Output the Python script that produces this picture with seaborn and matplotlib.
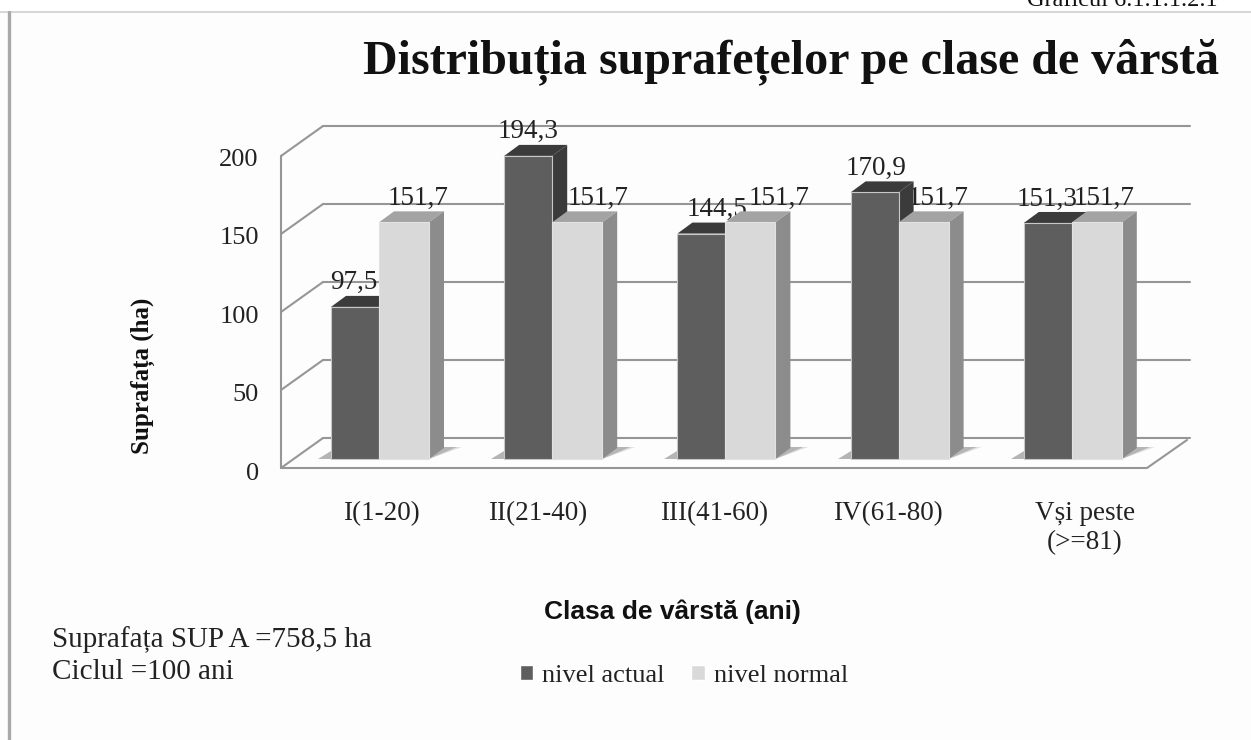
import matplotlib
matplotlib.use("Agg")
import matplotlib.pyplot as plt
from matplotlib.lines import Line2D
from matplotlib.patches import Polygon
import pandas as pd
import seaborn as sns

# Chart values
classes = ["I(1-20)", "II(21-40)", "III(41-60)", "IV(61-80)", "Vși peste\n(>=81)"]
nivel_actual = [97.5, 194.3, 144.5, 170.9, 151.3]
nivel_normal = [151.7, 151.7, 151.7, 151.7, 151.7]
yticks = [0, 50, 100, 150, 200]

W, H = 1251, 740
X0, DX = 379.0, 173.2    # pixel of first group centre, pixels per category
Y0, DY = 459.0, 1.56     # pixel of value 0 at the bars, pixels per unit
AX_L, AX_R, AX_T, AX_B = 281, 1190, 100, 480

DARK, DARK_TOP, LIGHT, LIGHT_TOP, LIGHT_SIDE = "#5e5e5e", "#3b3b3b", "#d9d9d9", "#a3a3a3", "#8c8c8c"
WALL = "#969696"
TEXT = "#222222"

sns.set_theme(style="white")
plt.rcParams["font.family"] = ["Liberation Serif", "DejaVu Serif"]

df = pd.DataFrame({
    "clasa": classes * 2,
    "suprafata": nivel_actual + nivel_normal,
    "nivel": ["nivel actual"] * 5 + ["nivel normal"] * 5,
})

fig = plt.figure(figsize=(W / 100, H / 100), dpi=100, facecolor="#fdfdfd")
ax = fig.add_axes([AX_L / W, 1 - AX_B / H, (AX_R - AX_L) / W, (AX_B - AX_T) / H])
ax.patch.set_alpha(0)

sns.barplot(data=df, x="clasa", y="suprafata", hue="nivel", palette=[DARK, LIGHT],
            width=50 * 2 / DX, gap=0, saturation=1, ax=ax, legend=True)

ax.set_xlim((AX_L - X0) / DX, (AX_R - X0) / DX)
ax.set_ylim((Y0 - AX_B) / DY, (Y0 - AX_T) / DY)
sns.despine(ax=ax, left=True, bottom=True)


def pdx(p):
    return p / DX


def pdy(p):
    return p / DY


# 3D box: walls, floor and gridlines, offsets from the bars plane in pixels
front_x, back_x = ax.get_xlim()[0], pdx(42) + ax.get_xlim()[0]
right_x = ax.get_xlim()[1] - pdx(43)
front_y, back_y = -pdy(9), pdy(21)
for v in yticks:
    ax.plot([front_x, back_x], [v + front_y, v + back_y], color=WALL, lw=1.5, zorder=1, clip_on=False)
    ax.plot([back_x, ax.get_xlim()[1]], [v + back_y, v + back_y], color=WALL, lw=1.5, zorder=1, clip_on=False)
ax.plot([front_x, front_x], [front_y, 200 + front_y], color=WALL, lw=1.5, zorder=1, clip_on=False)
ax.plot([front_x, right_x, right_x + pdx(40)], [front_y, front_y, back_y - pdy(2)], color=WALL, lw=1.5, zorder=1, clip_on=False)

# depth faces and shadow worked out from the bars seaborn drew
bars = [p for p in ax.patches if p.get_height() > 0]
n = len(classes)
dep_x, dep_y = pdx(15), pdy(11)
for i, p in enumerate(bars):
    x, w, h = p.get_x(), p.get_width(), p.get_height()
    dark = i < n
    if dark:
        p.set_x(x + pdx(2))
        p.set_width(w - pdx(2))
        x, w = p.get_x(), p.get_width()
    p.set_edgecolor("#c8c8c8" if dark else "#e2e2e2")
    p.set_linewidth(0.8)
    p.set_zorder(4 if dark else 6)
    ax.add_patch(Polygon([(x, h), (x + w, h), (x + w + dep_x, h + dep_y), (x + dep_x, h + dep_y)],
                         fc=DARK_TOP if dark else LIGHT_TOP, ec="none", zorder=3 if dark else 5))
    ax.add_patch(Polygon([(x + w, 0), (x + w + dep_x, dep_y), (x + w + dep_x, h + dep_y), (x + w, h)],
                         fc=DARK_TOP if dark else LIGHT_SIDE, ec="none", zorder=3 if dark else 5))
    if not dark:
        for grow, alpha in [(33, 0.3), (28, 0.6)]:
            ax.add_patch(Polygon([(x + w, 0), (x + w + pdx(grow), pdy(12)), (x + w, pdy(12))],
                                 fc="#9a9a9a", alpha=alpha, ec="none", zorder=1.5))
    else:
        ax.add_patch(Polygon([(x - pdx(13), 0), (x, 0), (x, pdy(8))], fc="#b5b5b5", ec="none", zorder=1.5))

# value labels, they sit behind the bars like in the original
label_shift = [-1, 0, 16, 1, -1, 14, 21, 29, 14, 7]
for i, p in enumerate(bars):
    cx = p.get_x() + p.get_width() / 2 + pdx(label_shift[i])
    ax.text(cx, p.get_height() + pdy(24), f"{p.get_height():.1f}".replace(".", ","),
            ha="center", va="center", fontsize=19.5, color=TEXT, zorder=2)

# tick labels
label_px = [381, 538, 714, 888, 1085]
ax.set_xticks([(px - X0) / DX for px in label_px], classes)
ax.set_yticks([v * 1.006 - pdy(12) for v in yticks], [str(v) for v in yticks])
ax.tick_params(axis="x", length=0, pad=15, labelsize=19.5, labelcolor=TEXT)
ax.tick_params(axis="y", length=0, pad=16, labelsize=19, labelcolor=TEXT)
ax.set_xlabel("")
ax.set_ylabel("")

handles, labels = ax.get_legend_handles_labels()
ax.get_legend().remove()
fig.legend(handles, labels, loc="center", bbox_to_anchor=(684 / W, 1 - 676 / H), ncol=2, frameon=False,
           handlelength=0.5, handleheight=0.5, handletextpad=0.35, columnspacing=1.0,
           fontsize=19, labelcolor=TEXT)

# figure furniture
fig.add_artist(Line2D([0, 1], [1 - 12 / H, 1 - 12 / H], color="#cfcfcf", lw=1.2))
fig.add_artist(Line2D([8.5 / W, 8.5 / W], [0, 1 - 12 / H], color="#a8a8a8", lw=2.4))
fig.patches.append(plt.Rectangle((0, 1 - 12 / H), 1, 12 / H, transform=fig.transFigure, fc="white", ec="none", zorder=-1))

fig.text(1218 / W, 1 - 6 / H, "Graficul 6.1.1.1.2.1", ha="right", va="baseline", fontsize=17.5, color="#111111")
fig.text(791 / W, 1 - 62 / H, "Distribuția suprafețelor pe clase de vârstă", ha="center", va="center",
         fontsize=34.6, fontweight="bold", color="#111111")
fig.text(143 / W, 1 - 376 / H, "Suprafața (ha)", rotation=90, ha="center", va="center",
         fontsize=18, fontweight="bold", color="#111111")
fig.text(672 / W, 1 - 612 / H, "Clasa de vârstă (ani)", ha="center", va="center",
         fontsize=19, fontweight="bold", family=["Liberation Sans"], color="#111111")
fig.text(52 / W, 1 - 640 / H, "Suprafața SUP A =758,5 ha", ha="left", va="center", fontsize=21, color=TEXT)
fig.text(52 / W, 1 - 672 / H, "Ciclul =100 ani", ha="left", va="center", fontsize=21, color=TEXT)

fig.savefig("out.png", dpi=100, facecolor=fig.get_facecolor())
